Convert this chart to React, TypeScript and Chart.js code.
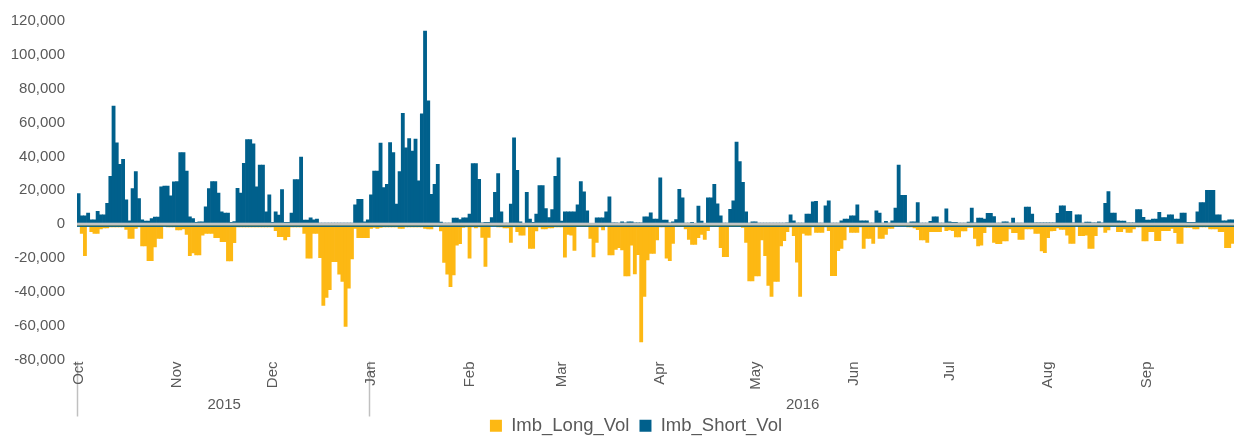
import React, { useEffect, useRef } from 'react';
import { Chart, registerables } from 'chart.js';

Chart.register(...registerables);

const MONTH_NAMES = ['Jan', 'Feb', 'Mar', 'Apr', 'May', 'Jun', 'Jul', 'Aug', 'Sep', 'Oct', 'Nov', 'Dec'];
const FIRST_DAY = { year: 2015, month: 9, day: 1 }; // 1 Oct 2015

// Imb_Short_Vol, thousands, one value per day
const shortOct = [18, 4.9, 4.9, 6.5, 2.5, 2.5, 7.5, 5.5, 5.5, 12.2, 28.2, 69.8, 48, 35.3, 38.2, 14.3, 2, 21, 31, 15.1, 2.5, 1.8, 1.8, 3.3, 4.1, 4.1, 22, 22.5, 22.5, 16.7, 25];
const shortNov = [25.1, 42.2, 42.2, 31.4, 4.3, 3.3, 1, 1.4, 1.4, 10.2, 21, 25.1, 25.1, 18.4, 7.3, 6.5, 6.5, 1, 1.5, 21.2, 18.4, 35.9, 50, 50, 47.5, 22, 34.9, 34.9, 7.3, 17.3];
const shortDec = [1, 7.3, 5.3, 20.4, 1, 1, 6.5, 26.3, 26.3, 39.6, 2.4, 2.4, 3.7, 2.5, 2.9, 0.6, 0.6, 0.6, 0.6, 0.6, 0.6, 0.6, 0.6, 0.6, 0.6, 0.6, 11.4, 14.7, 14.7, 1.4, 2.5];
const shortJan = [17.3, 31.4, 31.4, 47.8, 21.6, 23.5, 48.2, 42.2, 11.8, 31, 65.5, 45.1, 50.6, 43.1, 50.2, 25.5, 65.1, 114.1, 72.9, 17.6, 23.5, 35.3, 1.2, 0.6, 0.6, 0.6, 3.5, 3.5, 2.7, 3.7, 3.7];
const shortFeb = [5.9, 35.7, 35.7, 26.5, 0.8, 1, 1, 3.9, 18.8, 29.8, 7.3, 0.6, 0.6, 11.8, 51, 31.8, 1.4, 0.4, 18.8, 2.9, 1, 5.9, 22.7, 22.7, 9.2, 3.9, 8.6, 28.2, 39.2];
const shortMar = [1.8, 7.3, 7.3, 7.3, 7.3, 11.4, 25.1, 19, 7.8, 0.4, 0.4, 3.7, 3.7, 3.7, 7.3, 16.1, 0.8, 0.8, 0.6, 1.4, 0.8, 1.4, 1.4, 0.8, 0.8, 0.8, 4.3, 4.3, 6.7, 2.9, 2.9];
const shortApr = [27.3, 2.4, 2.4, 0.8, 1.4, 2.7, 20.6, 15.5, 0.6, 0.6, 1, 0.4, 10.6, 1.8, 0.4, 15.5, 15.5, 23.5, 12, 4.9, 0.6, 0.6, 8.8, 13.7, 48.4, 36.9, 24.7, 7.3, 0.6, 1.4];
const shortMay = [1.4, 0.6, 0.6, 0.6, 0.6, 0.6, 0.6, 0.6, 0.6, 0.6, 0.8, 5.5, 2, 0.6, 0.6, 0.6, 5.9, 5.9, 13.1, 13.5, 0.6, 0.6, 10.8, 13.7, 0.6, 0.6, 0.6, 2, 2.9, 2.9, 4.9];
const shortJun = [4.9, 11.4, 2, 2, 2, 0.6, 0.6, 7.8, 6.5, 0.6, 1.6, 0.6, 2, 9.4, 34.9, 17, 17, 0.6, 1.4, 1.4, 12.7, 0.6, 0.6, 0.6, 1.6, 4.3, 4.3, 0.6, 0.6, 9];
const shortJul = [1.4, 1, 1, 0.6, 0.6, 0.6, 1.2, 9.4, 0.8, 3.5, 3.5, 2.9, 6.3, 6.3, 4.5, 0.6, 0.6, 1.4, 1.4, 0.6, 3.5, 0.6, 0.6, 0.6, 10, 10, 5.9, 0.8, 0.8, 0.8, 0.8];
const shortAug = [0.8, 0.8, 0.8, 6.3, 10.8, 10.8, 7.5, 7.5, 0.8, 5.5, 5.5, 0.6, 1.2, 1.2, 0.8, 0.8, 1.4, 0.8, 12.2, 19.2, 6.5, 6.5, 2, 1.8, 1.8, 0.8, 0.8, 0.8, 8.6, 8.6, 4];
const shortSep = [2.4, 2.4, 2.9, 2.9, 6.9, 3.9, 3.9, 5.5, 5.5, 2.9, 2.9, 6.5, 6.5, 1, 1, 1, 7.3, 12.7, 12.7, 20, 20, 20, 5.5, 5.5, 2, 2, 2.5, 2.5];

// Imb_Long_Vol, thousands (magnitude, plotted below zero), one value per day
const longOct = [1, 5.5, 18.6, 1, 4.5, 5.5, 5.5, 2.9, 2.2, 2.2, 1.6, 1.6, 1.6, 1.6, 1.6, 3.1, 8.4, 8.4, 2.5, 1.6, 12.9, 12.9, 21.6, 21.6, 13.5, 8.4, 8.4, 1, 1.6, 1.6, 1.6];
const longNov = [3.5, 3.5, 2.9, 6.1, 18.6, 17, 18.2, 18.2, 6.5, 5.5, 5.5, 5.5, 8, 8, 10.4, 10.4, 21.8, 21.8, 11, 1.6, 1.6, 1.6, 1.6, 1.6, 1.6, 1.6, 1.6, 1.6, 1.6, 1.6];
const longDec = [1.6, 3.9, 7.5, 7.5, 9.4, 7.5, 1.6, 1.6, 1.6, 1.6, 5.5, 20.2, 20.2, 5.5, 5.5, 19.8, 48, 43.3, 38.8, 22.2, 22.2, 29.6, 33.9, 60.4, 37.8, 20.6, 2.5, 8, 8, 8, 8];
const longJan = [2.5, 2, 2.5, 2, 1.6, 1.6, 1.6, 1.6, 1.6, 2.5, 2.5, 1.6, 1.6, 1.6, 1.6, 1.6, 1.6, 2.5, 2.9, 2.9, 1, 1, 4.1, 22.7, 29.6, 36.9, 30, 12.4, 11.6, 2, 1.6];
const longFeb = [20.2, 1.6, 2.2, 1.6, 7.8, 25, 7.8, 1, 1, 1.6, 1.6, 2.2, 2.2, 10.8, 1.6, 4.5, 6.5, 6.5, 1.6, 14.3, 14.3, 4.1, 1.6, 2.9, 2.9, 2.2, 2.2, 1.6, 1.6];
const longMar = [1.6, 19.6, 6.1, 6.5, 15.5, 1.5, 1.5, 1.5, 1.5, 8.4, 19.4, 10.8, 1.6, 3.5, 1, 18.2, 18.2, 14.9, 13.9, 15.3, 30.6, 30.6, 12.4, 29.4, 18, 69.6, 42.7, 21.2, 17.3, 17.3, 9.4];
const longApr = [1.6, 1.6, 20.2, 21.6, 11.4, 1.5, 1.5, 1.5, 2.9, 9, 12, 12, 8, 6.1, 9, 3.9, 1.5, 1.5, 1.5, 13.9, 19.2, 19.2, 1.5, 1.5, 1.5, 1.5, 2, 10.8, 33.5, 33.5];
const longMay = [30.6, 30.6, 9.4, 18.6, 36.3, 42.7, 33.9, 33.9, 12.9, 9.8, 4.5, 1.6, 6.9, 22.5, 42.7, 5.5, 6.5, 6.5, 1.6, 4.9, 4.9, 4.9, 1.6, 3.9, 30.4, 30.4, 15.7, 14.3, 9.4, 1.6, 4.9];
const longJun = [4.9, 4.9, 1.6, 14.3, 8.4, 8.4, 11.4, 1.6, 8.4, 8.4, 6.1, 2.5, 2.5, 1, 1, 1, 1, 1.6, 1.6, 2.2, 3.3, 9.4, 9.4, 10.8, 4.5, 4.5, 4.5, 4.5, 1.6, 3.9];
const longJul = [3.5, 3.9, 7.6, 7.6, 4.1, 4.1, 2, 2, 8.4, 12.9, 12.4, 5.1, 1.6, 1.6, 10.8, 11.6, 11.6, 10, 10, 2.9, 5.1, 5.1, 9, 9, 2.9, 2.9, 2.9, 5.5, 5.5, 15.9, 16.9];
const longAug = [8, 4.1, 3.9, 2.2, 3.1, 3.1, 6.5, 11.4, 11.4, 1, 6.9, 6.9, 6.5, 14.3, 14.3, 6.9, 1.6, 1.6, 4.9, 3.5, 1, 1, 4.5, 4.5, 2.9, 4.9, 4.9, 2.9, 1.6, 1.6, 10];
const longSep = [10, 4.5, 4.5, 9.8, 9.8, 3.9, 3.9, 3.9, 2.5, 5.1, 11.4, 11.4, 2, 2, 2, 2.9, 2.9, 1.6, 1.6, 1.6, 2.9, 2.9, 2.9, 4.5, 4.5, 13.9, 13.9, 11.4];

const shortVolK = [...shortOct, ...shortNov, ...shortDec, ...shortJan, ...shortFeb, ...shortMar, ...shortApr, ...shortMay, ...shortJun, ...shortJul, ...shortAug, ...shortSep];
const longVolK = [...longOct, ...longNov, ...longDec, ...longJan, ...longFeb, ...longMar, ...longApr, ...longMay, ...longJun, ...longJul, ...longAug, ...longSep];

const Y_TICKS = [-80000, -60000, -40000, -20000, 0, 20000, 40000, 60000, 80000, 100000, 120000];

const dayDates: Date[] = shortVolK.map((_, i) => new Date(Date.UTC(FIRST_DAY.year, FIRST_DAY.month, FIRST_DAY.day + i)));
const dayLabels = dayDates.map((d) => d.toISOString().slice(0, 10));

const BLUE = '#00608c';
const ORANGE = '#fdb813';
const TEXT = '#595959';
const FONT_FAMILY = '"Liberation Sans", Arial, sans-serif';

const CANVAS_W = 1234;
const CANVAS_H = 445;
const LEGEND_SHIFT = 19;

const decorPlugin = {
  id: 'decor',
  afterLayout(chart: any) {
    if (chart.legend) {
      chart.legend.left += LEGEND_SHIFT;
      chart.legend.right += LEGEND_SHIFT;
    }
  },
  beforeDraw(chart: any) {
    const { ctx, chartArea, scales } = chart;
    const xs = scales.x;
    const step = (chartArea.right - chartArea.left) / dayLabels.length;
    ctx.save();
    ctx.strokeStyle = '#c0c0c0';
    ctx.lineWidth = 1.5;
    dayDates.forEach((d, i) => {
      if (i === 0 || d.getUTCFullYear() !== dayDates[i - 1].getUTCFullYear()) {
        const x = Math.round(xs.getPixelForValue(i) - step / 2) + 0.5;
        ctx.beginPath();
        ctx.moveTo(x, chartArea.bottom + 2);
        ctx.lineTo(x, chartArea.bottom + 57);
        ctx.stroke();
      }
    });
    ctx.restore();
  },
  afterDatasetsDraw(chart: any) {
    const { ctx, chartArea, scales } = chart;
    const y0 = scales.y.getPixelForValue(0);
    ctx.save();
    ctx.fillStyle = '#c4c4c4';
    ctx.fillRect(chartArea.left, y0 - 1.4, chartArea.right - chartArea.left, 2.8);
    ctx.fillStyle = BLUE;
    ctx.fillRect(chartArea.left, y0 + 1.4, chartArea.right - chartArea.left, 1.4);
    ctx.restore();
  },
  afterDraw(chart: any) {
    const { ctx, chartArea, scales } = chart;
    const xs = scales.x;
    const step = (chartArea.right - chartArea.left) / dayLabels.length;
    const groups: { year: number; start: number; end: number }[] = [];
    dayDates.forEach((d, i) => {
      const yr = d.getUTCFullYear();
      if (!groups.length || groups[groups.length - 1].year !== yr) groups.push({ year: yr, start: i, end: i });
      else groups[groups.length - 1].end = i;
    });
    ctx.save();
    ctx.fillStyle = TEXT;
    ctx.font = `15px ${FONT_FAMILY}`;
    ctx.textAlign = 'center';
    ctx.textBaseline = 'middle';
    groups.forEach((g) => {
      const x1 = xs.getPixelForValue(g.start) - step / 2;
      const x2 = Math.min(xs.getPixelForValue(g.end) + step / 2, chartArea.right);
      ctx.fillText(String(g.year), (x1 + x2) / 2 + 1, chartArea.bottom + 45);
    });
    ctx.restore();
  },
};

export default function App() {
  const ref = useRef<HTMLCanvasElement>(null);

  useEffect(() => {
    const canvas = ref.current;
    if (!canvas) return;
    const chart = new Chart(canvas, {
      type: 'bar',
      data: {
        labels: dayLabels,
        datasets: [
          {
            label: 'Imb_Long_Vol',
            data: longVolK.map((v) => -v * 1000),
            backgroundColor: ORANGE,
            borderWidth: 0,
            barPercentage: 1,
            categoryPercentage: 1,
          },
          {
            label: 'Imb_Short_Vol',
            data: shortVolK.map((v) => v * 1000),
            backgroundColor: BLUE,
            borderWidth: 0,
            barPercentage: 1,
            categoryPercentage: 1,
          },
        ],
      },
      options: {
        responsive: false,
        animation: false,
        devicePixelRatio: 1,
        layout: { padding: { top: 20, left: 0, right: 0, bottom: 0 } },
        plugins: {
          tooltip: { enabled: false },
          legend: {
            position: 'bottom',
            labels: {
              boxWidth: 12,
              boxHeight: 12,
              padding: 10,
              color: TEXT,
              font: { size: 18.5, family: FONT_FAMILY },
            },
          },
        },
        scales: {
          x: {
            stacked: true,
            grid: { display: false, drawTicks: false },
            border: { display: false },
            ticks: {
              autoSkip: false,
              minRotation: 90,
              maxRotation: 90,
              padding: 2,
              color: TEXT,
              font: { size: 15, family: FONT_FAMILY },
              callback: (_v: any, index: number) => {
                const d = dayDates[index];
                return d && d.getUTCDate() === 1 ? MONTH_NAMES[d.getUTCMonth()] : '';
              },
            },
            afterFit: (s: any) => {
              s.height = 47;
              s.paddingLeft = 0;
              s.paddingRight = 0;
            },
          },
          y: {
            stacked: true,
            min: Y_TICKS[0],
            max: Y_TICKS[Y_TICKS.length - 1],
            grid: { display: false, drawTicks: false },
            border: { display: false },
            afterBuildTicks: (s: any) => {
              s.ticks = Y_TICKS.map((v) => ({ value: v }));
            },
            ticks: {
              padding: 12,
              color: TEXT,
              font: { size: 15, family: FONT_FAMILY },
              callback: (v: any) => Number(v).toLocaleString('en-US'),
            },
            afterFit: (s: any) => {
              s.width = 77;
            },
          },
        },
      },
      plugins: [decorPlugin],
    });
    return () => chart.destroy();
  }, []);

  return (
    <div
      style={{
        position: 'absolute',
        left: 0,
        top: 0,
        width: CANVAS_W,
        height: 436,
        overflow: 'hidden',
        background: '#ffffff',
      }}
    >
      <canvas ref={ref} width={CANVAS_W} height={CANVAS_H} style={{ display: 'block', width: CANVAS_W, height: CANVAS_H }} />
    </div>
  );
}
